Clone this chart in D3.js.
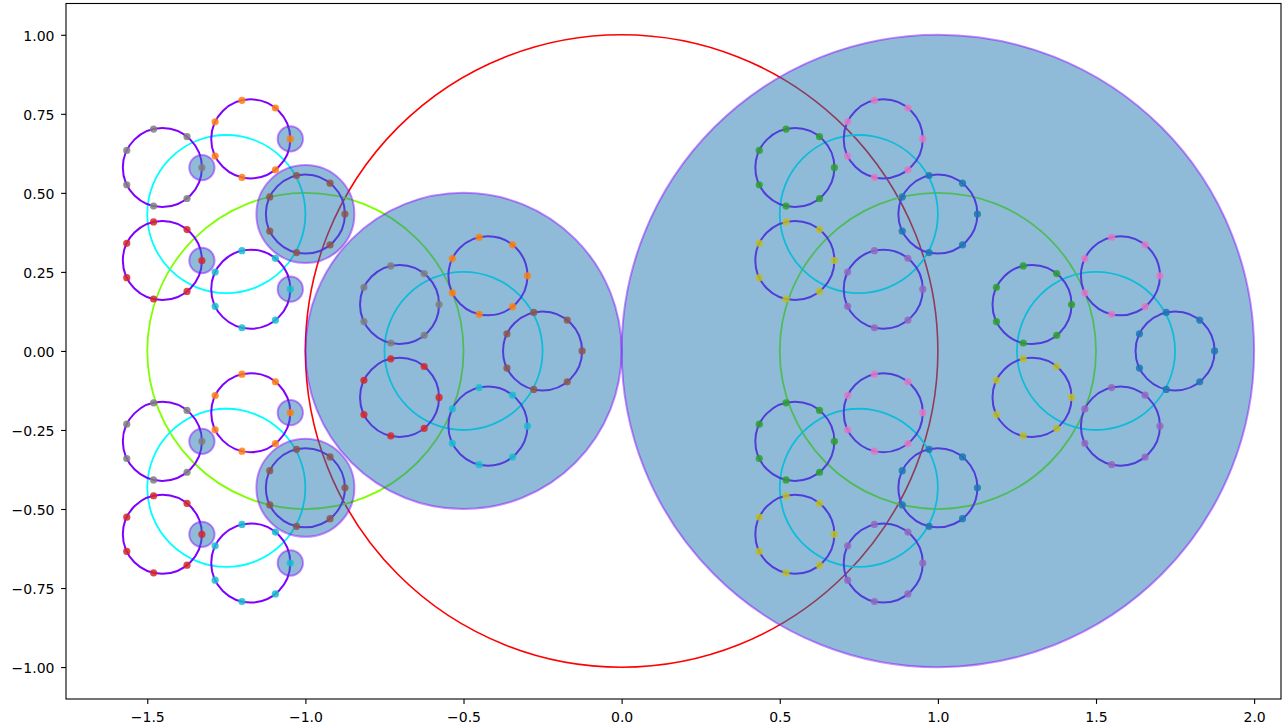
<!DOCTYPE html>
<html>
<head>
<meta charset="utf-8">
<script src="https://cdn.jsdelivr.net/npm/d3@7"></script>
<style>
  body { margin: 0; background: #ffffff; }
  svg text { font-family: "DejaVu Sans", sans-serif; }
</style>
</head>
<body>
<svg id="chart" width="1284" height="727"></svg>
<script>
// Nested ring tree: every ring spawns children evenly spaced on its rim,
// each child having half the parent's radius; the last rings carry dots.
const branching = [2, 3, 5, 7];                 // children per ring, by depth
const rootRing = { x: 0, y: 0, r: 1 };
const ringColors = ["#ff0000", "#80ff00", "#00ffff", "#8000ff"]; // outline per depth
const ringWidths = [1.6, 1.8, 1.8, 2.0];

const tab10 = ["#1f77b4", "#ff7f0e", "#2ca02c", "#d62728", "#9467bd",
               "#8c564b", "#e377c2", "#7f7f7f", "#bcbd22", "#17becf"];
// dot colour (tab10 index) for each innermost ring, per top-level branch
const dotColorsBranch0 = [0, 6, 2, 8, 4];
const dotColorsBranch1 = [5, 1, 7, 3, 9];

// highlighted discs: path of child indices through the tree, and disc radius
const discPaths = [
  [0], [1, 0],
  [1, 1, 0], [1, 2, 0],
  [1, 1, 1, 0], [1, 1, 2, 0], [1, 1, 3, 0], [1, 1, 4, 0],
  [1, 2, 1, 0], [1, 2, 2, 0], [1, 2, 3, 0], [1, 2, 4, 0]
];
const discRadii = [1.0, 0.5, 0.155, 0.155, 0.04, 0.04, 0.04, 0.04, 0.04, 0.04, 0.04, 0.04];

const xTicks = [-1.5, -1.0, -0.5, 0.0, 0.5, 1.0, 1.5, 2.0];
const xTickLabels = ["\u22121.5", "\u22121.0", "\u22120.5", "0.0", "0.5", "1.0", "1.5", "2.0"];
const yTicks = [-1.0, -0.75, -0.5, -0.25, 0.0, 0.25, 0.5, 0.75, 1.0];
const yTickLabels = ["\u22121.00", "\u22120.75", "\u22120.50", "\u22120.25", "0.00", "0.25", "0.50", "0.75", "1.00"];

const xDomain = [-1.757, 2.085];
const yDomain = [-1.101, 1.099];

// ---- layout ----
const plot = { left: 66, right: 1281, top: 3.5, bottom: 699 };
const x = d3.scaleLinear().domain(xDomain).range([plot.left, plot.right]);
const y = d3.scaleLinear().domain(yDomain).range([plot.bottom, plot.top]);
const rPx = d3.scaleLinear().domain([0, 1]).range([0, x(1) - x(0)]);

// ---- build the tree ----
const rings = [];
const dots = [];
function grow(node, depth, path) {
  if (depth < 4) rings.push({ ...node, depth, path });
  if (depth === 4) { dots.push({ ...node, path }); return; }
  const n = branching[depth];
  for (let k = 0; k < n; k++) {
    const a = 2 * Math.PI * k / n;
    const child = {
      x: node.x + node.r * Math.cos(a),
      y: node.y + node.r * Math.sin(a),
      r: node.r / 2
    };
    grow(child, depth + 1, path.concat(k));
  }
}
grow(rootRing, 0, []);

function nodeAt(path) {
  let node = rootRing;
  path.forEach((k, i) => {
    const a = 2 * Math.PI * k / branching[i];
    node = { x: node.x + node.r * Math.cos(a), y: node.y + node.r * Math.sin(a), r: node.r / 2 };
  });
  return node;
}
function dotColor(path) {
  const order = path[0] === 0 ? dotColorsBranch0 : dotColorsBranch1;
  return tab10[order[path[2]]];
}
const discs = discPaths.map((p, i) => ({ ...nodeAt(p), rad: discRadii[i] }));

// ---- draw ----
const svg = d3.select("#chart");
svg.append("defs").append("clipPath").attr("id", "plotClip")
  .append("rect")
  .attr("x", plot.left).attr("y", plot.top)
  .attr("width", plot.right - plot.left).attr("height", plot.bottom - plot.top);

const g = svg.append("g").attr("clip-path", "url(#plotClip)");

g.append("g").selectAll("circle").data(rings).join("circle")
  .attr("cx", d => x(d.x)).attr("cy", d => y(d.y)).attr("r", d => rPx(d.r))
  .attr("fill", "none")
  .attr("stroke", d => ringColors[d.depth])
  .attr("stroke-width", d => ringWidths[d.depth]);

g.append("g").selectAll("circle").data(discs).join("circle")
  .attr("cx", d => x(d.x)).attr("cy", d => y(d.y)).attr("r", d => rPx(d.rad))
  .attr("fill", "#1f77b4").attr("fill-opacity", 0.5)
  .attr("stroke", "#8000ff").attr("stroke-opacity", 0.45)
  .attr("stroke-width", 2);

g.append("g").selectAll("circle").data(dots).join("circle")
  .attr("cx", d => x(d.x)).attr("cy", d => y(d.y)).attr("r", 3.6)
  .attr("fill", d => dotColor(d.path)).attr("fill-opacity", 0.85);

// ---- axes ----
const xAxis = d3.axisBottom(x).tickValues(xTicks)
  .tickFormat((d, i) => xTickLabels[i]).tickSize(4.9).tickPadding(8.6);
const yAxis = d3.axisLeft(y).tickValues(yTicks)
  .tickFormat((d, i) => yTickLabels[i]).tickSize(4.9).tickPadding(6.6);

const gx = svg.append("g").attr("transform", `translate(0,${plot.bottom})`).call(xAxis);
const gy = svg.append("g").attr("transform", `translate(${plot.left},0)`).call(yAxis);
[gx, gy].forEach(ax => {
  ax.select(".domain").remove();
  ax.selectAll(".tick line").attr("stroke", "#000").attr("stroke-width", 1.1);
  ax.selectAll(".tick text").attr("fill", "#000").style("font-size", "14px")
    .style("font-family", "'DejaVu Sans', sans-serif");
});
gy.selectAll(".tick text").attr("dy", "0.42em");

svg.append("rect")
  .attr("x", plot.left).attr("y", plot.top)
  .attr("width", plot.right - plot.left).attr("height", plot.bottom - plot.top)
  .attr("fill", "none").attr("stroke", "#000").attr("stroke-width", 1.1);
</script>
</body>
</html>
